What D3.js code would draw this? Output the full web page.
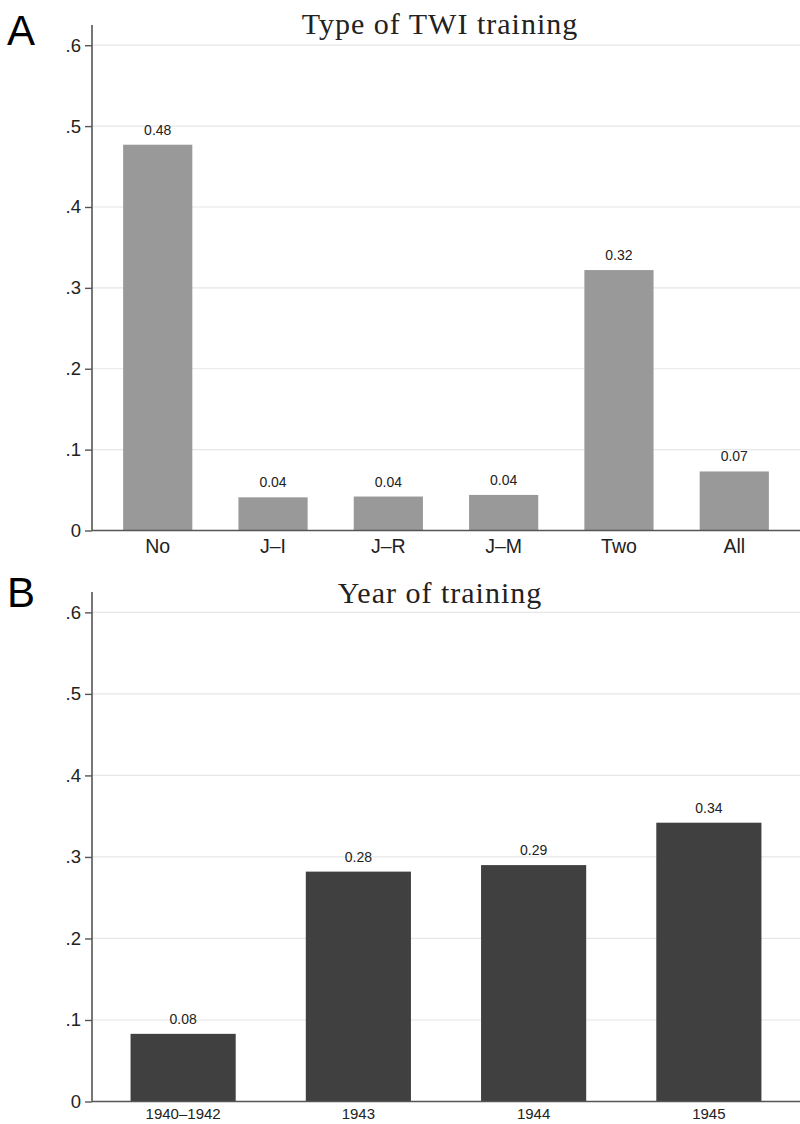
<!DOCTYPE html>
<html><head><meta charset="utf-8">
<script src="https://cdn.jsdelivr.net/npm/d3@7/dist/d3.min.js"></script>
<style>body{margin:0;background:#fff}svg{display:block}</style>
</head><body>
<svg id="c" width="800" height="1124"></svg>
<script>
const catsA = ["No","J–I","J–R","J–M","Two","All"];
const valsA = [0.477, 0.041, 0.042, 0.044, 0.322, 0.073];
const labelsA = ["0.48","0.04","0.04","0.04","0.32","0.07"];
const catsB = ["1940–1942","1943","1944","1945"];
const valsB = [0.083, 0.282, 0.290, 0.342];
const labelsB = ["0.08","0.28","0.29","0.34"];
const yTicks = [0, 0.1, 0.2, 0.3, 0.4, 0.5, 0.6];
const yTickLabels = ["0",".1",".2",".3",".4",".5",".6"];

const svg = d3.select("#c");
const sans = "'Liberation Sans', Arial, sans-serif";
const serif = "'Liberation Serif', 'DejaVu Serif', serif";

function panel(opts){
  const {cats, vals, labels, top, bottom, color, letter, title, po, xFont, xBase, letterY, titleY} = opts;
  const left = 92, right = 800;
  const y = d3.scaleLinear().domain([0, 0.625]).range([bottom, top]);
  const x = d3.scaleBand().domain(cats).range([left, right]).paddingInner(0.4).paddingOuter(po);
  const g = svg.append("g");
  g.selectAll("line.grid").data(yTicks.filter(t=>t>0)).join("line")
    .attr("x1", left).attr("x2", right)
    .attr("y1", d=>y(d)).attr("y2", d=>y(d))
    .attr("stroke", "#e6e6e6").attr("stroke-width", 1.2);
  g.selectAll("rect").data(vals).join("rect")
    .attr("x", (d,i)=>x(cats[i])).attr("width", x.bandwidth())
    .attr("y", d=>y(d)).attr("height", d=>y(0)-y(d))
    .attr("fill", color);
  g.selectAll("text.bl").data(vals).join("text")
    .attr("x", (d,i)=>x(cats[i]) + x.bandwidth()/2)
    .attr("y", d=>y(d) - 10)
    .attr("text-anchor","middle").attr("font-family", sans).attr("font-size", 14)
    .attr("fill","#222").text((d,i)=>labels[i]);
  const ax = d3.axisLeft(y).tickValues(yTicks).tickFormat((d,i)=>yTickLabels[i]).tickSize(7).tickPadding(4);
  const ag = g.append("g").attr("transform", `translate(${left},0)`).call(ax);
  ag.select(".domain").attr("stroke","#555").attr("stroke-width",1.6).attr("d", `M0,${top}V${bottom}`);
  ag.selectAll(".tick line").attr("stroke","#555").attr("stroke-width",1.4);
  ag.selectAll(".tick text").attr("font-family", sans).attr("font-size", 18.5).attr("fill","#222");
  g.append("line").attr("x1", left).attr("x2", right).attr("y1", y(0)).attr("y2", y(0))
    .attr("stroke","#555").attr("stroke-width",1.6);
  g.selectAll("text.xl").data(cats).join("text")
    .attr("x", d=>x(d) + x.bandwidth()/2).attr("y", y(0) + xBase)
    .attr("text-anchor","middle").attr("font-family", sans).attr("font-size", xFont)
    .attr("fill","#222").text(d=>d);
  g.append("text").attr("x", 440).attr("y", titleY).attr("text-anchor","middle")
    .attr("font-family", serif).attr("font-size", 30).attr("letter-spacing", 1).attr("fill","#222").text(title);
  g.append("text").attr("x", 7).attr("y", letterY).attr("font-family", sans)
    .attr("font-size", 42).attr("fill","#000").text(letter);
}

panel({cats:catsA, vals:valsA, labels:labelsA, top:25, bottom:530.5, color:"#999999",
  letter:"A", title:"Type of TWI training", po:0.27, xFont:19.5, xBase:22, letterY:45, titleY:34});
panel({cats:catsB, vals:valsB, labels:labelsB, top:592, bottom:1101.5, color:"#404040",
  letter:"B", title:"Year of training", po:0.22, xFont:15, xBase:17, letterY:607, titleY:603});
</script>
</body></html>
